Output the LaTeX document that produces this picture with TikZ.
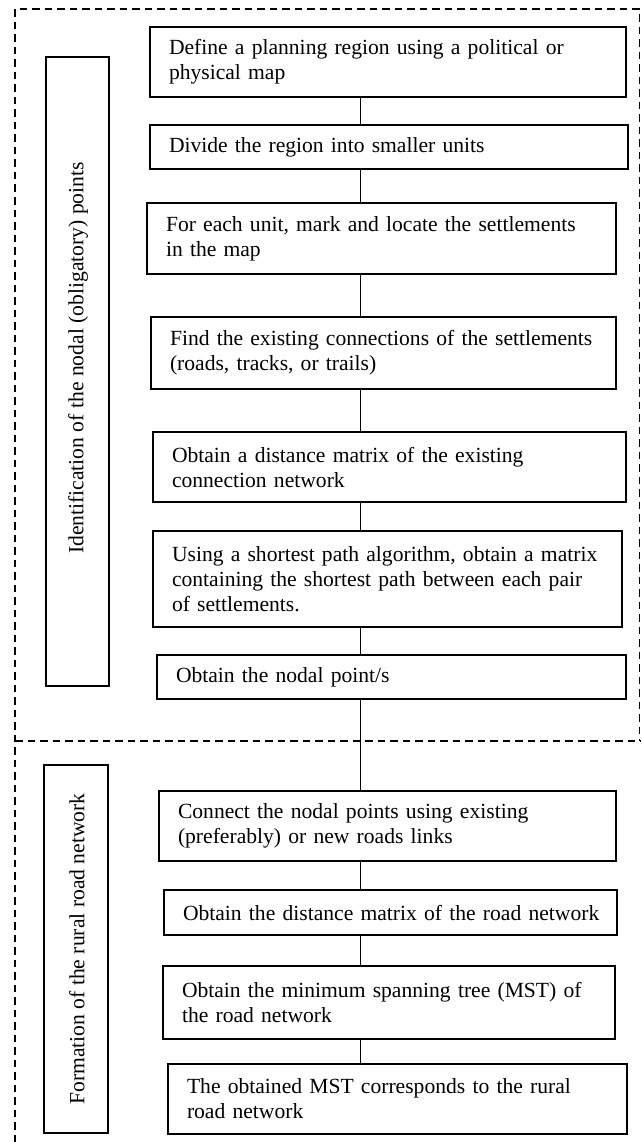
\documentclass[tikz,border=0pt]{standalone}
\usepackage{fontspec}
\setmainfont{Liberation Serif}
\begin{document}
\begin{tikzpicture}[x=1pt,y=-1pt,
  stepbox/.style={draw, line width=1.3pt, inner xsep=19pt, inner ysep=0pt,
    align=left, font=\fontsize{21.6}{25}\selectfont},
  sidebox/.style={draw, line width=1.3pt, inner sep=0pt, rotate=90},
  sidetext/.style={inner sep=0pt, rotate=90, font=\fontsize{21.6}{25}\selectfont},
  link/.style={line width=1pt},
  region/.style={line width=1.3pt, dash pattern=on 7.5pt off 5pt}]
\useasboundingbox (0,0) rectangle (641,1142);
% regions
\coordinate (tl) at (15,9);
\coordinate (tr) at (639.3,9);
\coordinate (ml) at (15,741);
\coordinate (mr) at (641,741);
\coordinate (bl) at (15,1142);
\draw[region] (bl) -- (tl) -- (tr) -- (639.3,741);
\draw[region] (ml) -- (mr);
% side labels
\node[sidebox, minimum width=629pt, minimum height=63pt] (s1) at (77.5,371.5) {};
\node[sidetext] (s1t) at (78,358) {Identification of the nodal (obligatory) points};
\node[sidebox, minimum width=368pt, minimum height=64pt] (s2) at (76,949) {};
\node[sidetext] (s2t) at (77,949) {Formation of the rural road network};
% steps
\node[stepbox, text width=438pt, minimum height=70pt] (b1) at (388,62) {\mbox{Define a planning region using a political or}\\\mbox{physical map}};
\node[stepbox, text width=440pt, minimum height=44pt] (b2) at (389,147) {\mbox{Divide the region into smaller units}};
\node[stepbox, text width=431pt, minimum height=71pt] (b3) at (381.5,238.5) {\mbox{For each unit, mark and locate the settlements}\\\mbox{in the map}};
\node[stepbox, text width=427pt, minimum height=72pt] (b4) at (383.5,353) {\mbox{Find the existing connections of the settlements}\\\mbox{(roads, tracks, or trails)}};
\node[stepbox, text width=435pt, minimum height=70pt] (b5) at (389.5,467) {\mbox{Obtain a distance matrix of the existing}\\\mbox{connection network}};
\node[stepbox, text width=431pt, minimum height=96pt] (b6) at (387.5,579) {\mbox{Using a shortest path algorithm, obtain a matrix}\\\mbox{containing the shortest path between each pair}\\\mbox{of settlements.}};
\node[stepbox, text width=431pt, minimum height=44pt] (b7) at (391.5,677) {\mbox{Obtain the nodal point/s}};
\node[stepbox, text width=419pt, minimum height=70pt] (b8) at (387.5,826) {\mbox{Connect the nodal points using existing}\\\mbox{(preferably) or new roads links}};
\node[stepbox, text width=415pt, minimum height=45pt] (b9) at (390.5,912.5) {\mbox{Obtain the distance matrix of the road network}};
\node[stepbox, text width=414pt, minimum height=73pt] (b10) at (389,1002.5) {\mbox{Obtain the minimum spanning tree (MST) of}\\\mbox{the road network}};
\node[stepbox, text width=421pt, minimum height=70pt] (b11) at (397.5,1099) {\mbox{The obtained MST corresponds to the rural}\\\mbox{road network}};
% connectors
\coordinate (spine) at (360,0);
\foreach \a/\b in {b1/b2,b2/b3,b3/b4,b4/b5,b5/b6,b6/b7,b7/b8,b8/b9,b9/b10,b10/b11}
  \draw[link] (\a.south -| spine) -- (\b.north -| spine);
\end{tikzpicture}
\end{document}
